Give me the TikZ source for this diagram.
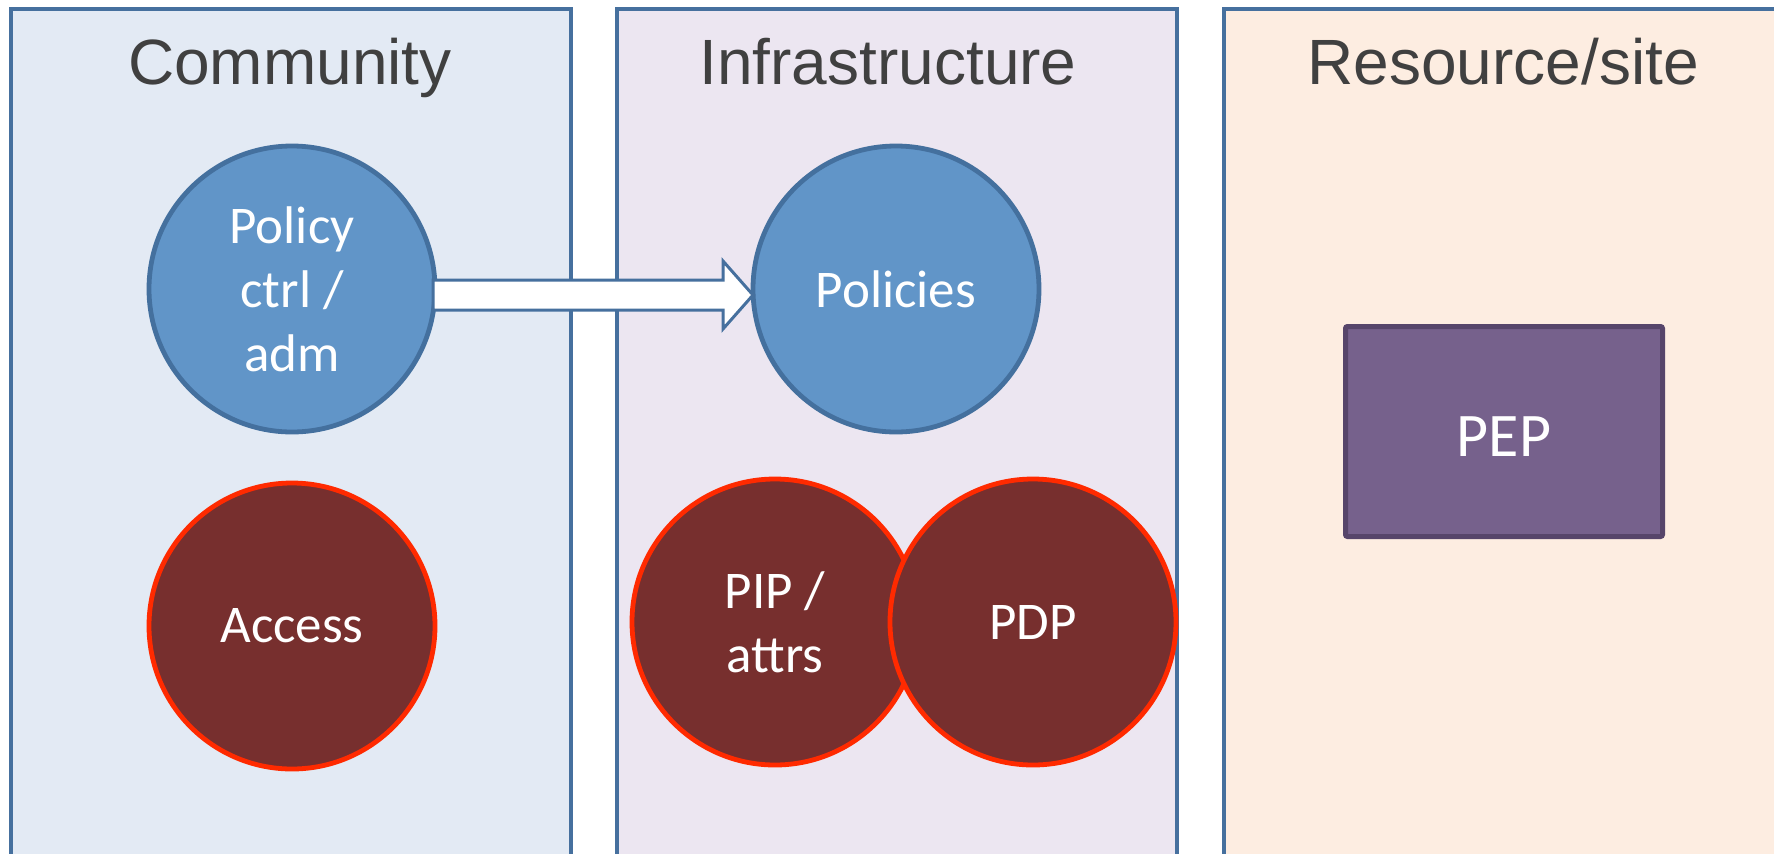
\documentclass[tikz,border=0pt]{standalone}
\usepackage{fontspec}
\setmainfont{Carlito}
\newfontfamily\titlefont{Liberation Sans}
\usetikzlibrary{calc}
\definecolor{boxborder}{HTML}{46709E}
\definecolor{commfill}{HTML}{E3EAF4}
\definecolor{infrafill}{HTML}{ECE6F1}
\definecolor{resfill}{HTML}{FDEDE1}
\definecolor{bluefill}{HTML}{6195C8}
\definecolor{blueline}{HTML}{44709E}
\definecolor{redfill}{HTML}{772F2E}
\definecolor{redline}{HTML}{FF2A00}
\definecolor{pepfill}{HTML}{76618C}
\definecolor{pepline}{HTML}{57456A}
\definecolor{titlecol}{HTML}{404040}
\tikzset{
  x=0.5pt, y=-0.5pt,
  column/.style={draw=boxborder, line width=2pt},
  coltitle/.style={anchor=base, text=titlecol, font=\titlefont\fontsize{32}{38}\selectfont, inner sep=0pt},
  bluecirc/.style={circle, draw=blueline, fill=bluefill, line width=2.4pt, minimum size=143pt, inner sep=0pt, outer sep=0pt, text=white, align=center, font=\fontsize{26.5}{32}\selectfont},
  redcirc/.style={circle, draw=redline, fill=redfill, line width=2.4pt, minimum size=143pt, inner sep=0pt, outer sep=0pt, text=white, align=center, font=\fontsize{26.5}{32}\selectfont},
  pepbox/.style={rectangle, draw=pepline, fill=pepfill, line width=2.5pt, rounded corners=1pt, minimum width=158.5pt, minimum height=105pt, text=white, font=\fontsize{31}{36}\selectfont},
  peplabel/.style={text=white, font=\fontsize{31}{36}\selectfont, inner sep=0pt},
  blockarrow/.style={draw=boxborder, fill=white, line width=1.5pt, line join=miter}
}
\begin{document}
\begin{tikzpicture}
\useasboundingbox (0,0) rectangle (1774,853);
\fill[white] (0,0) rectangle (1774,853);
% columns
\draw[column, fill=commfill] (11,9) rectangle (571,880);
\draw[column, fill=infrafill] (617,9) rectangle (1177,880);
\draw[column, fill=resfill] (1224,9) rectangle (1800,880);
\node[coltitle] (tcomm) at (290,84) {Community};
\node[coltitle] (tinfra) at (888,84) {Infrastructure};
\node[coltitle] (tres) at (1503,84) {Resource/site};
% circles
\node[bluecirc] (pc) at (292,289) {Policy\\ctrl /\\adm};
\node[redcirc] (acc) at (292,626) {Access};
\node[bluecirc] (pol) at (896,289) {Policies};
\node[redcirc] (pip) at (775,622) {PIP /\\attrs};
\node[redcirc] (pdp) at (1033,622) {PDP};
\node[pepbox] (pep) at (1504,431.5) {};
\node[peplabel, anchor=base] (peptext) at ($(pep.center)+(0,25)$) {PEP};
% block arrow
\coordinate (as) at ($(pc.east)+(-2,6)$);
\coordinate (ae) at ($(pol.west)+(0,6)$);
\draw[blockarrow] ($(as)+(0,-15)$) -- ($(ae)+(-30,-15)$) -- ($(ae)+(-30,-34)$) -- (ae)
  -- ($(ae)+(-30,34)$) -- ($(ae)+(-30,15)$) -- ($(as)+(0,15)$) -- cycle;
\end{tikzpicture}
\end{document}
